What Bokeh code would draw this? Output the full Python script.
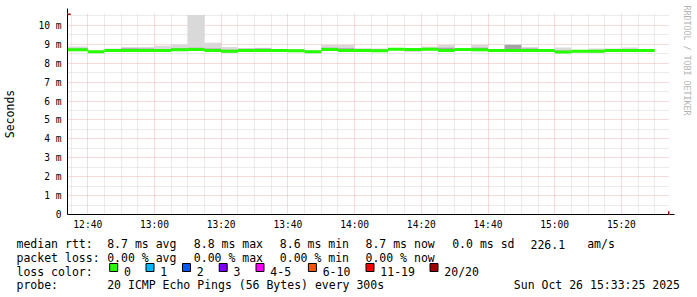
import numpy as np
from bokeh.plotting import figure
from bokeh.layouts import column, row
from bokeh.models import Range1d, FixedTicker, Arrow, NormalHead
from bokeh.core.properties import value
from bokeh.embed import file_html
from bokeh.resources import INLINE

# ---------------- data ----------------
times = ["12:35", "12:40", "12:45", "12:50", "12:55", "13:00", "13:05", "13:10", "13:15",
         "13:20", "13:25", "13:30", "13:35", "13:40", "13:45", "13:50", "13:55", "14:00",
         "14:05", "14:10", "14:15", "14:20", "14:25", "14:30", "14:35", "14:40", "14:45",
         "14:50", "14:55", "15:00", "15:05", "15:10", "15:15", "15:20", "15:25", "15:30"]
median_ms = [8.72, 8.72, 8.61, 8.67, 8.67, 8.67, 8.68, 8.72, 8.73,
             8.67, 8.64, 8.68, 8.67, 8.68, 8.66, 8.61, 8.73, 8.67,
             8.67, 8.66, 8.74, 8.73, 8.74, 8.67, 8.73, 8.72, 8.67,
             8.67, 8.67, 8.67, 8.60, 8.64, 8.64, 8.67, 8.67, 8.67]
smoke_min = [8.66, 8.66, 8.58, 8.64, 8.63, 8.63, 8.62, 8.68, 8.68,
             8.64, 8.55, 8.62, 8.63, 8.64, 8.63, 8.58, 8.66, 8.63,
             8.62, 8.61, 8.70, 8.62, 8.68, 8.62, 8.66, 8.64, 8.63,
             8.63, 8.63, 8.63, 8.57, 8.61, 8.56, 8.63, 8.63, 8.63]
smoke_max = [8.88, 8.88, 8.66, 8.78, 8.86, 8.86, 8.92, 8.99, 10.55,
             9.08, 8.86, 8.80, 8.82, 8.75, 8.76, 8.70, 8.96, 8.96,
             8.79, 8.78, 8.77, 8.76, 8.88, 8.96, 8.78, 8.96, 8.73,
             9.02, 8.86, 8.76, 8.84, 8.68, 8.78, 8.78, 8.84, 8.70]
core_lo = [8.69, 8.69, 8.59, 8.65, 8.65, 8.65, 8.65, 8.70, 8.70,
           8.65, 8.58, 8.65, 8.65, 8.66, 8.64, 8.59, 8.69, 8.65,
           8.64, 8.63, 8.72, 8.64, 8.70, 8.64, 8.69, 8.67, 8.65,
           8.65, 8.65, 8.65, 8.58, 8.62, 8.60, 8.65, 8.65, 8.65]
core_hi = [8.78, 8.78, 8.64, 8.72, 8.80, 8.78, 8.76, 8.80, 8.82,
           8.78, 8.71, 8.77, 8.78, 8.72, 8.70, 8.65, 8.82, 8.80,
           8.72, 8.73, 8.76, 8.75, 8.81, 8.82, 8.76, 8.82, 8.70,
           8.96, 8.78, 8.74, 8.66, 8.66, 8.68, 8.72, 8.74, 8.69]

x_tick_times = ["12:40", "13:00", "13:20", "13:40", "14:00", "14:20", "14:40", "15:00", "15:20"]
x_tick_labels = ["12:40", "13:00", "13:20", "13:40", "14:00", "14:20", "14:40", "15:00", "15:20"]
y_ticks = [0, 1, 2, 3, 4, 5, 6, 7, 8, 9, 10]
y_tick_labels = ["0", "1 m", "2 m", "3 m", "4 m", "5 m", "6 m", "7 m", "8 m", "9 m", "10 m"]

median_stats = ["8.7 ms avg", "8.8 ms max", "8.6 ms min", "8.7 ms now", "0.0 ms sd", "226.1", "am/s"]
loss_stats = ["0.00 % avg", "0.00 % max", "0.00 % min", "0.00 % now"]
loss_labels = ["0", "1", "2", "3", "4-5", "6-10", "11-19", "20/20"]
loss_colors = ["#26ff00", "#00b8ff", "#0059ff", "#7e00ff", "#ff00ff", "#ff5500", "#ff0000", "#a10000"]
probe_text = "20 ICMP Echo Pings (56 Bytes) every 300s"
date_text = "Sun Oct 26 15:33:25 2025"
watermark = "RRDTOOL / TOBI OETIKER"

DAY = "2025-10-26T"
def to_ms(hhmm):
    s = hhmm if hhmm.count(":") == 2 else hhmm + ":00"
    return float(np.datetime64(DAY + s).astype("datetime64[ms]").astype(np.int64))

STEP = 5 * 60 * 1000.0
t_end = np.array([to_ms(t) for t in times])
t_start = t_end - STEP
med = np.array(median_ms)

X0 = to_ms("12:33:55")
X1 = to_ms("15:34:25")
FONT = value("DejaVu Sans Mono")

# ---------------- main plot ----------------
p = figure(width=675, height=232, x_axis_type="datetime",
           x_range=Range1d(X0, X1), y_range=Range1d(0, 10.632),
           output_backend="svg", toolbar_location=None,
           min_border_left=67, min_border_right=6, min_border_top=13, min_border_bottom=17)
p.frame_align = False
p.outline_line_color = None
p.background_fill_color = "white"
p.border_fill_color = "white"

# smoke
p.quad(left=t_start, right=t_end, bottom=smoke_min, top=smoke_max,
       fill_color="#d9d9d9", line_color=None)
p.quad(left=t_start, right=t_end, bottom=core_lo, top=core_hi,
       fill_color="#a4a4a4", line_color=None)
# median band (loss 0 colour)
BAND = 0.08
p.quad(left=t_start, right=t_end, bottom=med - BAND, top=med + BAND,
       fill_color=loss_colors[0], line_color=None)

# axes
x_major = [to_ms(t) for t in x_tick_times]
x_minor = [v for v in np.arange(to_ms("12:35"), X1, STEP) if v not in x_major]
p.xaxis.ticker = FixedTicker(ticks=x_major, minor_ticks=x_minor)
p.xaxis.major_label_overrides = {v: l for v, l in zip(x_major, x_tick_labels)}
y_minor = [v + 0.5 for v in y_ticks]
p.yaxis.ticker = FixedTicker(ticks=y_ticks, minor_ticks=y_minor)
p.yaxis.major_label_overrides = {v: l for v, l in zip(y_ticks, y_tick_labels)}

for ax in (p.xaxis, p.yaxis):
    ax.major_tick_out = 0
    ax.major_tick_in = 0
    ax.minor_tick_out = 0
    ax.minor_tick_in = 0
    ax.axis_line_color = "black"
    ax.axis_line_width = 1
    ax.major_label_text_font = "DejaVu Sans Mono"
    ax.major_label_text_font_size = "9.6px"
    ax.major_label_text_color = "black"
p.xaxis.major_label_standoff = 4
p.yaxis.major_label_standoff = 6
p.yaxis.axis_label = "Seconds"
p.yaxis.axis_label_text_font = "DejaVu Sans Mono"
p.yaxis.axis_label_text_font_size = "11.5px"
p.yaxis.axis_label_text_font_style = "normal"
p.yaxis.axis_label_text_color = "black"
p.yaxis.axis_label_standoff = 18

for g in (p.xgrid, p.ygrid):
    g.grid_line_color = "#f0b4b4"
    g.grid_line_dash = "1 1"
    g.grid_line_width = 1
    g.minor_grid_line_color = "#d6d6d6"
    g.minor_grid_line_dash = "1 1"
    g.minor_grid_line_width = 1

# arrows at axis ends
px_x = (X1 - X0) / 602.0
px_y = 10.632 / 202.0
p.add_layout(Arrow(end=NormalHead(size=6, fill_color="#a01818", line_color="#a01818"),
                   x_start=X1, y_start=0, x_end=X1 + 5 * px_x, y_end=0,
                   line_color="black", line_width=1))
p.add_layout(Arrow(end=NormalHead(size=6, fill_color="#a01818", line_color="#a01818"),
                   x_start=X0, y_start=10.632, x_end=X0, y_end=10.632 + 5 * px_y,
                   line_color="black", line_width=1))

# ---------------- watermark strip ----------------
w = figure(width=22, height=232, x_range=Range1d(0, 22), y_range=Range1d(232, 0),
           output_backend="svg", toolbar_location=None, min_border=0,
           x_axis_location=None, y_axis_location=None)
w.frame_align = False
w.grid.visible = False
w.outline_line_color = None
w.border_fill_color = "white"
w.background_fill_color = "white"
w.text(x=[11.5], y=[5], text=[watermark], angle=-np.pi / 2, text_font=FONT,
       text_font_size="8.3px", text_color="#b4b4b4", text_align="left", text_baseline="middle")

# ---------------- legend block ----------------
q = figure(width=697, height=65, x_range=Range1d(0, 697), y_range=Range1d(65, 0),
           output_backend="svg", toolbar_location=None, min_border=0,
           x_axis_location=None, y_axis_location=None)
q.frame_align = False
q.grid.visible = False
q.outline_line_color = None
q.border_fill_color = "white"
q.background_fill_color = "white"

FS = "11.5px"
col_x = [106.7, 193.3, 279.3, 365.0, 451.7, 530.0, 586.7]
rows_y = [11.6, 25.3, 39.0, 52.7]

tx = [16, 16, 16, 16] + col_x[:len(median_stats)] + col_x[:len(loss_stats)] + [106.7, 513.3]
ty = rows_y + [rows_y[0]] * len(median_stats) + [rows_y[1]] * len(loss_stats) + [rows_y[3]] * 2
tt = ["median rtt:", "packet loss:", "loss color:", "probe:"] + median_stats + loss_stats + [probe_text, date_text]
q.text(x=tx, y=ty, text=tt, text_font=FONT, text_font_size=FS,
       text_baseline="alphabetic", text_color="black")

sq_x = [109.7, 146.0, 182.5, 219.2, 256.0, 308.4, 366.0, 430.0]
q.rect(x=[s + 3.5 for s in sq_x], y=[rows_y[2] - 4.0] * len(sq_x), width=8, height=8,
       fill_color=loss_colors, line_color="black", line_width=1)
q.text(x=[s + 13.8 for s in sq_x], y=[rows_y[2]] * len(sq_x), text=loss_labels,
       text_font=FONT, text_font_size=FS, text_baseline="alphabetic", text_color="black")

layout = column(row(p, w, spacing=0), q, spacing=0)
open("out.html", "w").write(file_html(layout, INLINE))
